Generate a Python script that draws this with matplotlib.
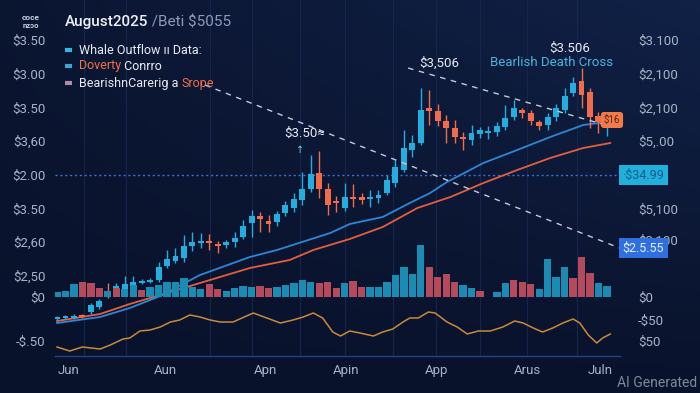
import matplotlib
matplotlib.use("Agg")
import matplotlib.pyplot as plt
import numpy as np

plt.rcParams['font.family'] = ['Roboto', 'DejaVu Sans']

# ---------------- data ----------------
# candles (slot index 0..65), price in chart units
opens  = [81, 82, 82, 85, 88, 93, 108, 107, 110, 115, 117, 118, 120, 134, 139, 142, 154, 157, 159, 156,
          155, 158, 163, 177, 184, 179, 178, 187, 192, 200, 211, 227, 211, 199, 192, 203, 203, 201, 202, 207,
          217, 230, 250, 257, 292, 289, 279, 272, 263, 260, 266, 267, 268, 273, 283, 290, 287, 278, 275, 283,
          290, 307, 319, 308, 284, 273]
closes = [83, 84, 84, 83, 95, 99, 104, 114, 116, 118, 119, 120, 133, 141, 144, 154, 158, 159, 157, 154,
          158, 162, 174, 184, 181, 176, 186, 195, 201, 211, 226, 211, 195, 197, 203, 201, 200, 203, 205, 220,
          233, 252, 257, 290, 289, 279, 272, 263, 261, 267, 270, 269, 274, 282, 292, 287, 279, 274, 283, 292,
          304, 317, 305, 283, 278, 277]
highs  = [84, 85, 86, 86, 97, 101, 117, 117, 124, 124, 121, 122, 138, 150, 152, 165, 168, 167, 166, 159,
          160, 168, 180, 190, 188, 185, 189, 199, 207, 228, 245, 249, 217, 204, 217, 216, 207, 210, 210, 225,
          240, 270, 265, 312, 310, 296, 285, 280, 268, 275, 273, 274, 278, 295, 300, 292, 290, 280, 287, 296,
          312, 323, 332, 312, 288, 281]
lows   = [80, 81, 81, 82, 86, 91, 102, 104, 108, 113, 116, 117, 118, 132, 137, 138, 149, 152, 150, 147,
          152, 153, 161, 163, 168, 168, 174, 184, 188, 195, 208, 202, 185, 188, 189, 193, 196, 193, 197, 205,
          213, 228, 243, 255, 275, 274, 257, 257, 250, 255, 262, 261, 264, 270, 280, 282, 275, 270, 270, 279,
          287, 304, 292, 272, 267, 264]

volume = [5, 6, 13, 15, 14, 9, 6, 9, 8, 12, 7, 10, 12, 15, 15, 19, 10, 8, 13, 8,
          6, 9, 11, 10, 11, 9, 10, 12, 14, 17, 15, 14, 15, 9, 14, 16, 10, 10, 10, 15,
          22, 30, 23, 52, 30, 20, 23, 15, 12, 9, 6, np.nan, 5, 14, 17, 15, 13, 8, 38, 20,
          30, 19, 40, 24, 14, 11]
volume_dir = "cccrrrcrccrccccccc rrccccrrcccccrrrcrrccccccc rrrrcc-cccrrrccccrrrc".replace(" ", "")

ma_fast_x = [0, 5.1, 8.6, 12.2, 16.9, 22.8, 26.0, 32.3, 34.6, 38.5, 41.7, 44.1, 46.1, 50.4, 54.4, 58.3, 62.2, 65.0]
ma_fast_y = [77, 83, 92, 104, 125, 143, 150, 167, 176, 183, 197, 207, 218, 237, 250, 263, 275, 278]
ma_slow_x = [0, 5.1, 8.6, 12.2, 16.9, 22.8, 27.5, 30.3, 34.6, 38.5, 42.6, 46.5, 50.4, 54.4, 58.3, 62.2, 65.4]
ma_slow_y = [79, 86, 96, 105, 117, 132, 140, 150, 161, 173, 192, 203, 217, 230, 242, 252, 257]

osc_x = [0, 1.5, 3.0, 5.1, 6.3, 7.8, 8.6, 9.8, 11.0, 12.2, 13.4, 14.5, 15.7, 16.9, 18.1, 19.3, 20.8, 23.2,
         24.8, 26.4, 27.9, 29.1, 30.3, 31.4, 32.6, 33.5, 34.6, 35.8, 37.4, 38.5, 39.7, 40.9, 41.7, 42.7,
         43.9, 44.7, 46.1, 47.3, 48.5, 49.8, 51.2, 52.7, 54.1, 55.1, 56.3, 57.4, 58.6, 59.8, 61.0, 61.8,
         62.8, 63.8, 64.5, 65.4]
osc_y = [53, 49, 53, 51, 55, 61, 62, 69, 70, 73, 78, 80, 85, 83, 80, 78, 78, 87,
         82, 77, 80, 83, 87, 82, 68, 64, 69, 67, 64, 68, 71, 78, 82, 82,
         88, 87, 78, 73, 66, 69, 69, 73, 79, 77, 72, 68, 72, 77, 81, 77,
         65, 57, 62, 66]

trend1_x, trend1_y = [17.5, 66.5], [315, 152]
trend2_x, trend2_y = [41.5, 64.8], [332, 275]
level_line = 225

left_tick_vals = [360, 326, 292, 259, 225, 191, 158, 124, 103, 59]
left_tick_labels = ["$3.50", "$3.00", "$3.50", "$3,60", "$2.00", "$3.50", "$2,60", "$2,50", "$0", "-$.50"]
right_tick_vals = [360, 326, 292, 259, 191, 160, 103, 80, 59]
right_tick_labels = ["$3.100", "$2,100", "$2,100", "$5,.00", "$5,100", "$2,100", "$0", "-$50", "$50"]
x_tick_pos = [1.4, 12.8, 24.6, 34.2, 44.8, 55.6, 64.2]
x_tick_labels = ["Jun", "Aun", "Apn", "Apin", "App", "Arus", "Juln"]
grid_x = [3.2, 8.2, 18.1, 23.0, 28.7, 34.0, 39.7, 44.8, 50.0, 55.6, 61.5]

# ---------------- style ----------------
BG = "#0a1530"
CYAN = "#24aee0"
RED = "#f26b4a"
VCYAN = "#1a8cb3"
VRED = "#b64a5d"
TXT = "#a8b3c8"
W, H = 700, 393

def fx(px):
    return px / W

def fy(py):
    return 1 - py / H

fig = plt.figure(figsize=(7, 3.93), dpi=100)
fig.patch.set_facecolor(BG)

# background gradient
bg = fig.add_axes([0, 0, 1, 1], zorder=-10)
gx, gy = np.meshgrid(np.linspace(0, 1, 200), np.linspace(0, 1, 120))
g = np.clip(0.55 * gx * (1 - gy) + 0.15 * (1 - gy), 0, 1)
c0 = np.array([9, 18, 43]) / 255
c1 = np.array([20, 40, 82]) / 255
img = c0[None, None, :] * (1 - g[..., None]) + c1[None, None, :] * g[..., None]
bg.imshow(img, aspect="auto", extent=[0, 1, 0, 1], origin="upper")
bg.axis("off")

ax = fig.add_axes([fx(55), fy(356), (620 - 55) / W, 356 / H])
ax.set_facecolor("none")
ax.set_xlim(-0.24, 66.55)
ax.set_ylim(44, 400)

for s in ["top", "right", "left"]:
    ax.spines[s].set_visible(False)
ax.spines["bottom"].set_color("#24448a")
ax.spines["bottom"].set_linewidth(1.0)

for gxv in grid_x:
    ax.axvline(gxv, color="#14264d", lw=0.8, zorder=0)

# volume overlay
axv = fig.add_axes(ax.get_position(), sharex=ax)
axv.set_facecolor("none")
axv.set_ylim(44 - 103, 400 - 103)
axv.axis("off")
idx = np.arange(len(volume))
vcols = [VCYAN if d == "c" else VRED for d in volume_dir]
axv.bar(idx, volume, width=0.86, color=vcols, zorder=1)

# moving averages
ax.plot(ma_slow_x, ma_slow_y, color="#e35f40", lw=1.3, zorder=3)
ax.plot(ma_fast_x, ma_fast_y, color="#2f86d6", lw=1.3, zorder=3)

# oscillator
ax.plot(osc_x, osc_y, color="#c98a3a", lw=1.1, zorder=3)

# candles
for i in range(len(opens)):
    o, c, h, l = opens[i], closes[i], highs[i], lows[i]
    col = CYAN if c >= o else RED
    ax.vlines(i, l, h, color=col, lw=1.0, zorder=4)
    lo = min(o, c)
    hgt = max(abs(c - o), 1.6)
    ax.bar(i, hgt, bottom=lo, width=0.7, color=col, zorder=5)

# trend lines
ax.plot(trend1_x, trend1_y, color="#c3cbdb", lw=1.0, ls=(0, (4, 4)), zorder=6, clip_on=False)
ax.plot(trend2_x, trend2_y, color="#c3cbdb", lw=1.0, ls=(0, (4, 4)), zorder=6)
ax.axhline(level_line, color="#3a6fd6", lw=1.0, ls=(0, (1.5, 2)), zorder=2)

# ticks
ax.set_yticks(left_tick_vals)
ax.set_yticklabels(left_tick_labels)
ax.tick_params(axis="y", length=0, pad=7, labelsize=9.5, labelcolor=TXT)
ax.set_xticks(x_tick_pos)
ax.set_xticklabels(x_tick_labels)
ax.tick_params(axis="x", length=0, pad=6, labelsize=9.5, labelcolor=TXT)

ax2 = ax.twinx()
ax2.set_ylim(ax.get_ylim())
ax2.set_yticks(right_tick_vals)
ax2.set_yticklabels(right_tick_labels)
ax2.tick_params(axis="y", length=0, pad=13, labelsize=9.5, labelcolor=TXT)
for s in ax2.spines.values():
    s.set_visible(False)

# price boxes
ax2.text(1.004, 225, "·$34.99", transform=ax2.get_yaxis_transform(), ha="left", va="center",
         fontsize=9, color="#1d5a86", zorder=10, clip_on=False,
         bbox=dict(boxstyle="square,pad=0.3", fc="#1fb0dc", ec="none"))
ax2.text(1.004, 152, "$2.5.55", transform=ax2.get_yaxis_transform(), ha="left", va="center",
         fontsize=9, color="#e8f0ff", zorder=10, clip_on=False,
         bbox=dict(boxstyle="square,pad=0.3", fc="#2f6fe0", ec="none"))

# annotations
ax.text(29.3, 267, "$3.50≈", color="#e6ebf3", fontsize=9.5, ha="center", va="center", zorder=8)
ax.text(28.7, 250, "↑", color="#6fd0e0", fontsize=7, ha="center", va="center", zorder=8)
ax.text(45.2, 337, "$3,506", color="#e6ebf3", fontsize=9.5, ha="center", va="center", zorder=8)
ax.text(60.6, 352, "$3.506", color="#e6ebf3", fontsize=9.5, ha="center", va="center", zorder=8)
ax.text(58.5, 337, "Bearlish Death Cross", color="#4ab4e0", fontsize=9.5, ha="center", va="center", zorder=8)
ax.text(65.6, 280, "$16", color="#5a2410", fontsize=7, ha="center", va="center", zorder=9, clip_on=False,
        bbox=dict(boxstyle="round,pad=0.3", fc="#f07a4a", ec="none"))

# title & legend
renderer = fig.canvas.get_renderer()

def seq_text(x_px, y_px, parts, size):
    x = fx(x_px)
    for s, col, wt in parts:
        t = fig.text(x, fy(y_px), s, color=col, fontsize=size, fontweight=wt, va="center", ha="left")
        bb = t.get_window_extent(renderer)
        x = x + bb.width / fig.bbox.width

seq_text(65, 22, [("August2025", "#eef2f8", "medium"), (" /Beti $5055", "#8e9abb", "normal")], 11)
fig.text(fx(31), fy(18), "coce", color="#c8d0e0", fontsize=6, fontweight="bold", ha="center", va="center")
fig.text(fx(31), fy(26), "nzɔo", color="#c8d0e0", fontsize=5.5, fontweight="bold", ha="center", va="center")

leg_colors = ["#33b7e2", "#3aa6d4", "#b58aa6"]
leg_y = [50, 66, 83]
for c, yy in zip(leg_colors, leg_y):
    fig.add_artist(plt.Line2D([fx(65), fx(72)], [fy(yy), fy(yy)], color=c, lw=3, solid_capstyle="butt"))
seq_text(79, 50, [("Whale Outflow ıı Data:", "#e8ecf4", "normal")], 9)
seq_text(79, 66, [("Doverty", "#f0704a", "normal"), (" Conrro", "#e8ecf4", "normal")], 9)
seq_text(79, 83, [("BearishnCarerig a ", "#e8ecf4", "normal"), ("Srope", "#f0704a", "normal")], 9)

fig.text(fx(657), fy(383), "AI Generated", color="#7f889c", fontsize=10, ha="center", va="center")

fig.savefig("out.png", dpi=100, facecolor=fig.get_facecolor())
